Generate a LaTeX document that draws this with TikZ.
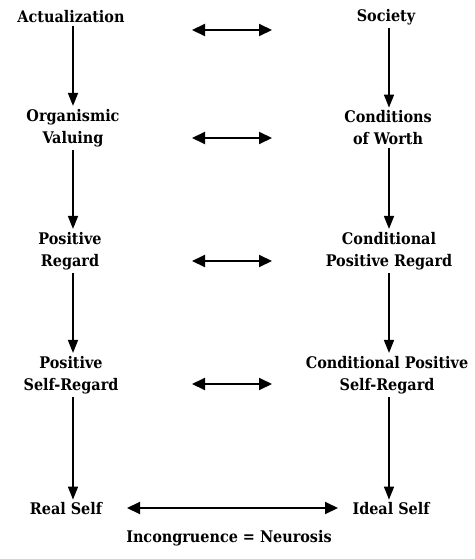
\documentclass[tikz,border=0pt]{standalone}
\usepackage{fontspec}
\setmainfont{DejaVu Serif Condensed}
\usetikzlibrary{arrows.meta}
\begin{document}
\begin{tikzpicture}[x=1pt,y=-1pt,
  lbl/.style={font=\fontsize{16}{22}\selectfont\bfseries, align=center, inner sep=3pt},
  down/.style={line width=1.6pt, -{Triangle[length=13pt,width=10pt]}},
  both/.style={line width=2pt, {Triangle[length=13pt,width=12pt]}-{Triangle[length=13pt,width=12pt]}}]
\fill[white] (0,0) rectangle (474,559);
\node[lbl] (act) at (71,17) {Actualization};
\node[lbl] (soc) at (386,17) {Society};
\node[lbl] (org) at (73,128) {Organismic\\Valuing};
\node[lbl] (cow) at (388,128) {Conditions\\of Worth};
\node[lbl] (pr) at (70,251) {Positive\\Regard};
\node[lbl] (cpr) at (389,251) {Conditional\\Positive Regard};
\node[lbl] (psr) at (71,375) {Positive\\Self-Regard};
\node[lbl] (cpsr) at (387,375) {Conditional Positive\\Self-Regard};
\node[lbl] (real) at (66,509) {Real Self};
\node[lbl] (ideal) at (391,509) {Ideal Self};
\node[lbl] (inc) at (229,538) {Incongruence = Neurosis};
\coordinate (x1) at (73,0);
\coordinate (x2) at (389,0);
\draw[down] (act.south -| x1) -- (org.north -| x1);
\draw[down] (org.south -| x1) -- (pr.north -| x1);
\draw[down] (pr.south -| x1) -- (psr.north -| x1);
\draw[down] (psr.south -| x1) -- (real.north -| x1);
\draw[down] (soc.south -| x2) -- (cow.north -| x2);
\draw[down] (cow.south -| x2) -- (cpr.north -| x2);
\draw[down] (cpr.south -| x2) -- (cpsr.north -| x2);
\draw[down] (cpsr.south -| x2) -- (ideal.north -| x2);
\coordinate (h1l) at (192,30); \coordinate (h1r) at (272,30);
\coordinate (h2l) at (192,138); \coordinate (h2r) at (272,138);
\coordinate (h3l) at (192,261); \coordinate (h3r) at (272,261);
\coordinate (h4l) at (192,384); \coordinate (h4r) at (272,384);
\draw[both] (h1l) -- (h1r);
\draw[both] (h2l) -- (h2r);
\draw[both] (h3l) -- (h3r);
\draw[both] (h4l) -- (h4r);
\coordinate (rl) at (127,508);
\coordinate (ir) at (338,508);
\draw[both] (rl) -- (ir);
\end{tikzpicture}
\end{document}
